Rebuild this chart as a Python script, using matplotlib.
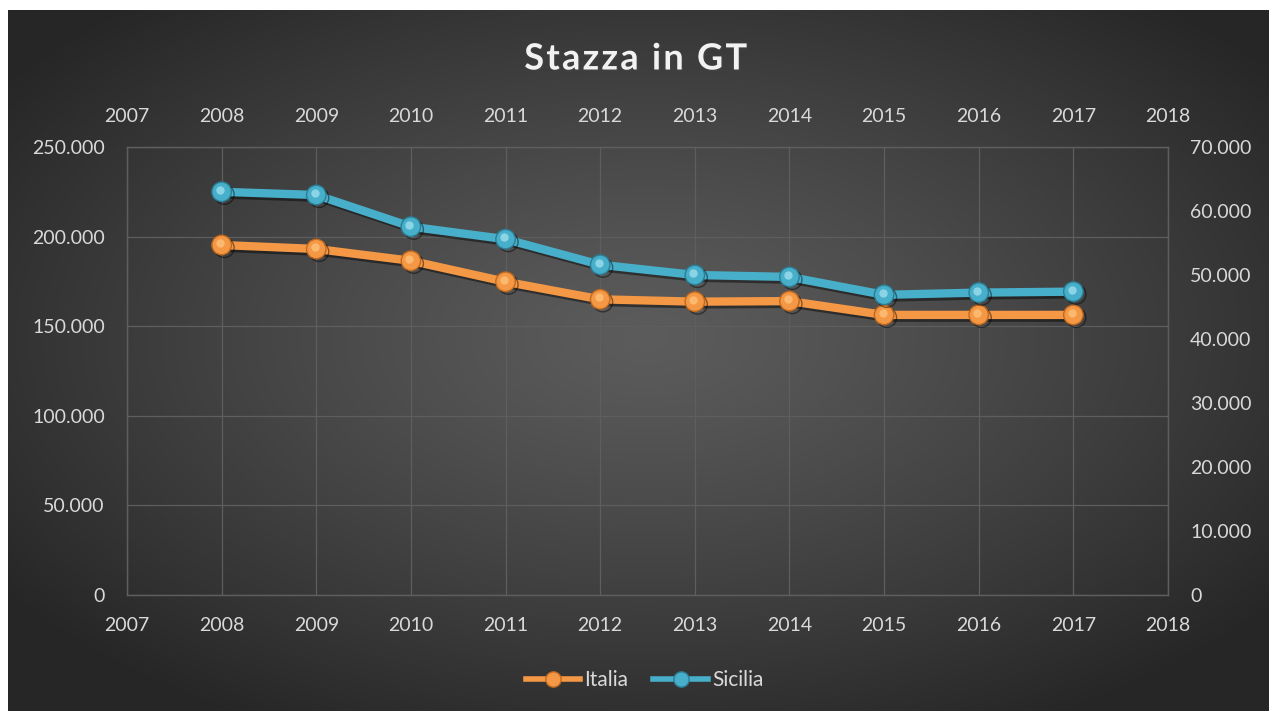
import numpy as np
import matplotlib
matplotlib.use("Agg")
import matplotlib.pyplot as plt
import matplotlib.patheffects as pe
from matplotlib.lines import Line2D
from matplotlib.patches import Rectangle
from matplotlib.ticker import FuncFormatter, MultipleLocator
from matplotlib.transforms import offset_copy

# dati
anni = [2008, 2009, 2010, 2011, 2012, 2013, 2014, 2015, 2016, 2017]
italia = [195300, 193100, 186500, 174800, 165000, 163700, 164000, 156300, 156300, 156300]
sicilia = [63000, 62500, 57550, 55600, 51600, 50000, 49700, 46900, 47250, 47400]

col_italia = '#F59845'
col_sicilia = '#48AFCA'
col_testo = '#D9D9D9'
col_griglia = '#5E5E5E'

plt.rcParams['font.family'] = ['Lato', 'DejaVu Sans']

fig = plt.figure(figsize=(12.69, 7.11), dpi=100, facecolor='#262626')

# sfondo con sfumatura radiale
bg = fig.add_axes([0, 0, 1, 1])
bg.set_axis_off()
gx, gy = np.meshgrid(np.linspace(-1, 1, 400), np.linspace(-1, 1, 240))
r = np.sqrt(((gx - 0.02) / 1.25) ** 2 + ((gy + 0.05) / 1.25) ** 2)
r = np.clip(r, 0, 1)
c_centro, c_bordo = 0.36, 0.15
val = c_centro + (c_bordo - c_centro) * r ** 1.2
bg.imshow(np.dstack([val, val, val]), aspect='auto', extent=[0, 1, 0, 1])
bg.set_xlim(0, 1)
bg.set_ylim(0, 1)

# bordo bianco in alto e a sinistra
fig.patches.append(Rectangle((0, 0), 8 / 1269, 1, transform=fig.transFigure,
                             facecolor='white', edgecolor='none', zorder=5))
fig.patches.append(Rectangle((0, 1 - 10 / 711), 1, 10 / 711, transform=fig.transFigure,
                             facecolor='white', edgecolor='none', zorder=5))

ax = fig.add_axes([127 / 1269, 116 / 711, (1168 - 127) / 1269, (595 - 147) / 711])
ax.patch.set_alpha(0)
ax2 = ax.twinx()

ombra = [pe.SimpleLineShadow(offset=(2, -2), alpha=0.45, shadow_color='black'), pe.Normal()]

ax.plot(anni, italia, color=col_italia, lw=6, marker='o', ms=14,
        mfc=col_italia, mec='#C0691E', mew=1, solid_capstyle='round', path_effects=ombra, zorder=3)
ax2.plot(anni, sicilia, color=col_sicilia, lw=6, marker='o', ms=14,
         mfc=col_sicilia, mec='#2A7F96', mew=1, solid_capstyle='round', path_effects=ombra, zorder=3)

# riflesso sulle sfere
luce = offset_copy(ax.transData, fig=fig, x=-1.5, y=2, units='dots')
ax.plot(anni, italia, ls='none', marker='o', ms=6, mfc='#FFD08A', mec='none', alpha=0.6,
        transform=luce, zorder=4)
luce2 = offset_copy(ax2.transData, fig=fig, x=-1.5, y=2, units='dots')
ax2.plot(anni, sicilia, ls='none', marker='o', ms=6, mfc='#B8EEFA', mec='none', alpha=0.6,
         transform=luce2, zorder=4)

ax.set_xlim(2007, 2018)
ax.set_ylim(0, 250000)
ax2.set_ylim(0, 70000)
ax.xaxis.set_major_locator(MultipleLocator(1))
ax.yaxis.set_major_locator(MultipleLocator(50000))
ax2.yaxis.set_major_locator(MultipleLocator(10000))

fmt = FuncFormatter(lambda v, p: '{:,.0f}'.format(v).replace(',', '.'))
ax.yaxis.set_major_formatter(fmt)
ax2.yaxis.set_major_formatter(fmt)

ax.grid(True, color=col_griglia, lw=0.9)
ax.set_axisbelow(True)
for a in (ax, ax2):
    for s in a.spines.values():
        s.set_color(col_griglia)
        s.set_linewidth(0.9)

ax.tick_params(axis='x', length=0, pad=16, labelsize=14, labelcolor=col_testo, labeltop=True)
ax.tick_params(axis='y', length=0, pad=16, labelsize=14, labelcolor=col_testo)
ax2.tick_params(axis='y', length=0, pad=16, labelsize=14, labelcolor=col_testo)

# titolo con spaziatura tra le lettere
titolo = '\u200a'.join('Stazza in GT')
fig.text(0.501, 1 - 59 / 711, titolo, ha='center', va='center', fontsize=26,
         fontweight='bold', color='#F2F2F2',
         path_effects=[pe.withSimplePatchShadow(offset=(1, -1), alpha=0.4)])

handles = [
    Line2D([], [], color=col_italia, lw=4, marker='o', ms=11, mfc=col_italia, mec='#C0691E'),
    Line2D([], [], color=col_sicilia, lw=4, marker='o', ms=11, mfc=col_sicilia, mec='#2A7F96'),
]
fig.legend(handles, ['Italia', 'Sicilia'], loc='center', bbox_to_anchor=(0.508, 1 - 680 / 711),
           ncol=2, frameon=False, fontsize=15, labelcolor=col_testo, handlelength=2.6,
           handletextpad=0.2, columnspacing=1.2)

fig.savefig('out.png', dpi=100, facecolor=fig.get_facecolor())
